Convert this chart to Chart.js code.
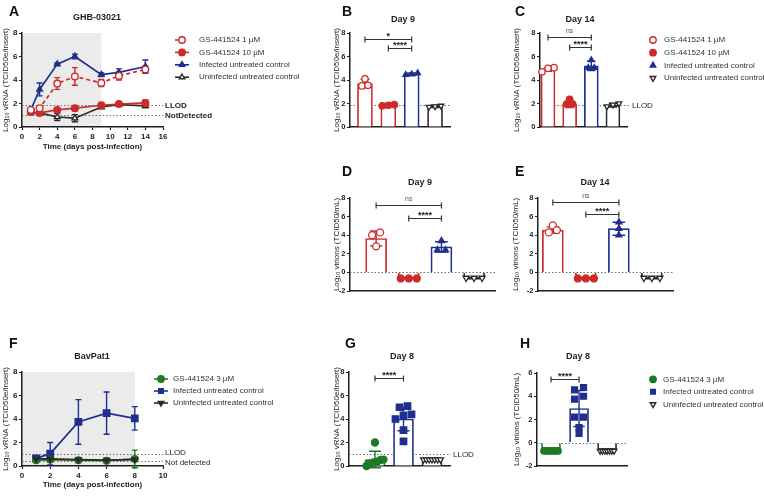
<!DOCTYPE html>
<html>
<head>
<meta charset="utf-8">
<title>GS-441524 – vRNA and virions</title>
<script src="https://cdn.jsdelivr.net/npm/chart.js@4.4.1/dist/chart.umd.min.js"></script>
<style>
  html, body { margin: 0; padding: 0; background: #fff; }
  #fig { position: relative; width: 764px; height: 496px; overflow: hidden; background: #fff; }
  #fig canvas { position: absolute; left: 0; top: 0; }
</style>
</head>
<body>
<div id="fig">
  <canvas id="pA" width="764" height="496"></canvas>
  <canvas id="pB" width="764" height="496"></canvas>
  <canvas id="pC" width="764" height="496"></canvas>
  <canvas id="pD" width="764" height="496"></canvas>
  <canvas id="pE" width="764" height="496"></canvas>
  <canvas id="pF" width="764" height="496"></canvas>
  <canvas id="pG" width="764" height="496"></canvas>
  <canvas id="pH" width="764" height="496"></canvas>
</div>
<script>
/* ============================================================
   GS-441524 vs GHB-03021 / BavPat1 — panels A to H
   ============================================================ */

const W = 764, H = 496;
const FONT = "'Liberation Sans', Arial, sans-serif";
const INK = '#1e1e1e';
const RED = '#cf2a2a';
const BLUE = '#1f2f8f';
const BLK = '#2a2a2a';
const GREEN = '#1d7a23';
const SHADE = '#ebebeb';

Chart.defaults.font.family = FONT;
Chart.defaults.color = INK;
Chart.defaults.plugins.legend.display = false;
Chart.defaults.plugins.tooltip.enabled = false;

/* ── Data: GHB-03021 time course (A) ── */
const seriesGHB = ['GS-441524 1 µM', 'GS-441524 10 µM', 'Infected untreated control', 'Uninfected untreated control'];
const daysA    = [1, 2, 4, 6, 9, 11, 14];
const a1uM     = [1.45, 1.6, 3.7, 4.3, 3.75, 4.35, 4.9];
const a1uMSd   = [0.1, 0.1, 0.5, 0.75, 0.3, 0.35, 0.3];
const a10uM    = [1.3, 1.2, 1.45, 1.6, 1.85, 1.95, 2.05];
const a10uMSd  = [0.1, 0.1, 0.08, 0.2, 0.08, 0.08, 0.25];
const aInf     = [1.45, 3.2, 5.35, 6.0, 4.45, 4.65, 5.15];
const aInfSd   = [0.1, 0.55, 0.1, 0.2, 0.15, 0.3, 0.55];
const aUninf   = [1.2, 1.2, 0.85, 0.75, 1.7, 1.9, 1.8];
const aUninfSd = [0.1, 0.1, 0.3, 0.3, 0.1, 0.05, 0.15];
const LLOD_GHB = 1.9;
const ND_GHB = 1.0;

/* ── Data: vRNA day 9 (B) and day 14 (C) ── */
const bMean = [3.7, 1.85, 4.5, 1.75];
const bSd   = [0.35, 0.05, 0.1, 0.1];
const bPts  = [[3.5, 4.1, 3.55], [1.8, 1.85, 1.9], [4.45, 4.5, 4.6], [1.7, 1.75, 1.8]];
const cMean = [4.9, 1.95, 5.2, 1.85];
const cSd   = [0.15, 0.3, 0.4, 0.15];
const cPts  = [[4.7, 5.05, 5.0], [1.95, 2.35, 1.95], [5.05, 5.7, 5.05], [1.75, 1.9, 2.0]];

/* ── Data: virions day 9 (D) and day 14 (E) ── */
const dMean = [3.65, -0.65, 2.75, -0.65];
const dSd   = [0.8, 0, 0.55, 0.05];
const dPts  = [[4.3, 4.0, 2.8], [-0.65, -0.65, -0.65], [3.4, 2.4, 2.4], [-0.6, -0.6, -0.6]];
const eMean = [4.55, -0.65, 4.7, -0.65];
const eSd   = [0.35, 0, 0.7, 0.05];
const ePts  = [[4.3, 5.05, 4.55], [-0.65, -0.65, -0.65], [5.4, 4.7, 4.0], [-0.6, -0.6, -0.6]];

/* ── Data: BavPat1 time course (F) ── */
const seriesBav = ['GS-441524 3 µM', 'Infected untreated control', 'Uninfected untreated control'];
const daysF    = [1, 2, 4, 6, 8];
const fDrug    = [0.5, 0.55, 0.5, 0.45, 0.6];
const fDrugSd  = [0.08, 0.2, 0.05, 0.05, 0.75];
const fInf     = [0.65, 1.05, 3.75, 4.5, 4.05];
const fInfSd   = [0.2, 0.95, 1.9, 1.8, 1.0];
const fUninf   = [0.6, 0.6, 0.55, 0.5, 0.55];
const fUninfSd = [0.05, 0.05, 0.05, 0.05, 0.05];
const LLOD_BAV = 1.0;
const ND_BAV = 0.45;

/* ── Data: day 8 vRNA (G) and virions (H) ── */
const gMean = [0.55, 4.0, 0.55];
const gSd   = [0.7, 1.0, 0];
const gPts  = [[2.0, 0.5, 0.3, 0.0, 0.55, 0.2, 0.35], [5.0, 5.1, 4.3, 4.4, 4.0, 3.05, 2.1], [0.55, 0.55, 0.55, 0.55, 0.55, 0.55, 0.55]];
const hMean = [-0.7, 2.95, -0.6];
const hSd   = [0, 1.55, 0.05];
const hPts  = [[-0.7, -0.7, -0.7, -0.7, -0.7, -0.7, -0.7], [4.55, 4.75, 3.75, 4.0, 2.2, 2.2, 1.3, 0.8], [-0.7, -0.7, -0.7, -0.7, -0.7, -0.7, -0.7]];

/* ── Styles ── */
const ST = {
  open1:   { color: RED,   open: true,  shape: 'circle', dash: [4, 3] },
  fill10:  { color: RED,   open: false, shape: 'circle' },
  inf:     { color: BLUE,  open: false, shape: 'triangle' },
  uninfUp: { color: BLK,   open: true,  shape: 'triangle' },
  uninfDn: { color: BLK,   open: true,  shape: 'triangle', rot: 180 },
  gs3:     { color: GREEN, open: false, shape: 'circle' },
  infSq:   { color: BLUE,  open: false, shape: 'rect' },
  uninfF:  { color: BLK,   open: false, shape: 'triangle', rot: 180 },
};
const Y_RNA = 'Log₁₀ vRNA (TCID50e/insert)';
const Y_VIR = 'Log₁₀ virions (TCID50/mL)';

/* ── Drawing helpers ── */
function label(ctx, str, x, y, size, weight, align, color) {
  ctx.save();
  ctx.font = (weight || 'normal') + ' ' + size + 'px ' + FONT;
  ctx.fillStyle = color || INK;
  ctx.textAlign = align || 'left';
  ctx.textBaseline = 'middle';
  ctx.fillText(str, x, y);
  ctx.restore();
}

function marker(ctx, st, x, y, r) {
  ctx.save();
  ctx.lineWidth = 1.4;
  ctx.strokeStyle = st.color;
  ctx.fillStyle = st.open ? '#fff' : st.color;
  ctx.beginPath();
  if (st.shape === 'circle') ctx.arc(x, y, r, 0, Math.PI * 2);
  else if (st.shape === 'rect') { const s = r * Math.SQRT1_2; ctx.rect(x - s, y - s, 2 * s, 2 * s); }
  else {
    let a = (st.rot || 0) * Math.PI / 180;
    for (let k = 0; k < 3; k++) {
      const px = x + Math.sin(a) * r, py = y - Math.cos(a) * r;
      if (k) ctx.lineTo(px, py); else ctx.moveTo(px, py);
      a += 2 * Math.PI / 3;
    }
    ctx.closePath();
  }
  ctx.fill();
  ctx.stroke();
  ctx.restore();
}

function errBar(ctx, px, yTop, yBot, color, cap) {
  ctx.save();
  ctx.strokeStyle = color;
  ctx.lineWidth = 1.4;
  ctx.beginPath();
  ctx.moveTo(px, yTop); ctx.lineTo(px, yBot);
  ctx.moveTo(px - cap, yTop); ctx.lineTo(px + cap, yTop);
  ctx.moveTo(px - cap, yBot); ctx.lineTo(px + cap, yBot);
  ctx.stroke();
  ctx.restore();
}

/* Simple beeswarm: points closer than thr share a row, spread around the group centre */
function swarm(vals, step, thr, maxW) {
  const idx = vals.map((v, i) => i).sort((a, b) => vals[a] - vals[b]);
  const off = new Array(vals.length).fill(0);
  let start = 0;
  for (let k = 1; k <= idx.length; k++) {
    if (k === idx.length || vals[idx[k]] - vals[idx[k - 1]] >= thr) {
      const m = k - start;
      const s = m > 1 ? Math.min(step, maxW / (m - 1)) : 0;
      for (let j = 0; j < m; j++) off[idx[start + j]] = (j - (m - 1) / 2) * s;
      start = k;
    }
  }
  return off;
}

/* ── Per-panel decorations (titles, letters, LLOD, brackets, legends) ── */
const DECOR = {};

Chart.register({
  id: 'decor',
  beforeDraw(chart) {
    const d = DECOR[chart.canvas.id];
    if (!d || d.shadeTo == null) return;
    const { ctx, chartArea: a, scales: { x } } = chart;
    const x0 = x.getPixelForValue(0), x1 = x.getPixelForValue(d.shadeTo);
    ctx.save();
    ctx.fillStyle = SHADE;
    ctx.fillRect(x0, a.top, x1 - x0, a.bottom - a.top);
    ctx.restore();
  },
  beforeDatasetsDraw(chart) {
    const d = DECOR[chart.canvas.id];
    if (!d) return;
    const { ctx, chartArea: a, scales: { x, y } } = chart;
    (d.refs || []).forEach(r => {
      const py = Math.round(y.getPixelForValue(r.y)) + 0.5;
      const end = a.right + (r.ext || 0);
      ctx.save();
      ctx.strokeStyle = '#6e6e6e';
      ctx.lineWidth = 1;
      ctx.setLineDash([1.5, 2]);
      ctx.beginPath(); ctx.moveTo(a.left, py); ctx.lineTo(end, py); ctx.stroke();
      ctx.restore();
      if (r.label) label(ctx, r.label, end + 2, py + (r.dy || 0), 8, r.bold ? 'bold' : 'normal', 'left');
    });
    // error bars of the time courses sit under lines and markers
    (d.lineErr || []).forEach(s => {
      s.x.forEach((day, i) => {
        if (!s.sd[i]) return;
        errBar(ctx, x.getPixelForValue(day), y.getPixelForValue(s.y[i] + s.sd[i]),
               y.getPixelForValue(s.y[i] - s.sd[i]), s.st.color, 3);
      });
    });
  },
  afterDatasetDraw(chart, args) {
    const d = DECOR[chart.canvas.id];
    if (!d || !d.barErr || args.index !== 0) return;
    const { ctx, scales: { x, y } } = chart;
    const e = d.barErr;
    e.mean.forEach((m, i) => {
      if (!e.sd[i]) return;
      errBar(ctx, x.getPixelForValue(i + 1), y.getPixelForValue(m + e.sd[i]),
             y.getPixelForValue(m - e.sd[i]), e.groups[i].color, e.cap);
    });
  },
  afterDraw(chart) {
    const d = DECOR[chart.canvas.id];
    if (!d) return;
    const { ctx, scales: { x, y } } = chart;
    (d.brackets || []).forEach(b => {
      const x1 = x.getPixelForValue(b.a), x2 = x.getPixelForValue(b.b);
      const py = Math.round(y.getPixelForValue(b.y)) + 0.5;
      ctx.save();
      ctx.strokeStyle = '#333';
      ctx.lineWidth = 1.2;
      ctx.beginPath();
      ctx.moveTo(x1, py); ctx.lineTo(x2, py);
      ctx.moveTo(x1, py - 3); ctx.lineTo(x1, py + 3);
      ctx.moveTo(x2, py - 3); ctx.lineTo(x2, py + 3);
      ctx.stroke();
      ctx.restore();
      if (b.text === 'ns') label(ctx, 'ns', (x1 + x2) / 2, py - 6, 7, 'normal', 'center', '#555');
      else label(ctx, b.text, (x1 + x2) / 2, py - 3, 9, 'bold', 'center', '#222');
    });
    if (d.legend) {
      const L = d.legend;
      L.items.forEach((it, i) => {
        const yy = L.y + i * L.dy;
        if (L.line) {
          ctx.save();
          ctx.strokeStyle = it.st.color;
          ctx.lineWidth = 1.6;
          ctx.setLineDash(it.st.dash || []);
          ctx.beginPath(); ctx.moveTo(L.x - 7, yy); ctx.lineTo(L.x + 7, yy); ctx.stroke();
          ctx.restore();
        }
        marker(ctx, it.st, L.x, yy, L.r);
        label(ctx, it.label, L.tx, yy, 8, 'normal', 'left', '#333');
      });
    }
    if (d.title) label(ctx, d.title.t, d.title.x, d.title.y, 9, 'bold', 'center');
    if (d.letter) label(ctx, d.letter.t, d.letter.x, d.letter.y, 14, 'bold', 'left', '#111');
  }
});

/* ── Axes ── */
function yAxis(p, size) {
  return {
    type: 'linear', min: p.yMin, max: p.yMax,
    ticks: { stepSize: p.yStep, font: { size: size, weight: 'bold' }, color: INK, padding: 1.5 },
    grid: { drawOnChartArea: false, drawTicks: true, tickLength: 3, tickColor: INK, tickWidth: 1.2 },
    border: { display: true, color: INK, width: 1.5 },
    title: { display: true, text: p.yTitle, font: { size: 8 }, color: INK, padding: 0 },
    afterFit: s => { s.width = p.area.l - (p.titleX - 4.8); }
  };
}

function padding(p, hx) {
  return { left: p.titleX - 4.8, top: p.area.t, right: W - p.area.r, bottom: H - p.area.b - hx };
}

/* ── Time-course panels (A, F) ── */
function lineChart(id, p) {
  const datasets = p.series.map(s => ({
    type: 'line',
    label: s.label,
    data: s.x.map((d, i) => ({ x: d, y: s.y[i] })),
    borderColor: s.st.color,
    borderWidth: 1.7,
    borderDash: s.st.dash || [],
    pointStyle: s.st.shape,
    pointRotation: s.st.rot || 0,
    pointRadius: s.st.shape === 'rect' ? 4.5 : 3.3,
    pointBackgroundColor: s.st.open ? '#fff' : s.st.color,
    pointBorderColor: s.st.color,
    pointBorderWidth: 1.4,
    tension: 0,
    fill: false,
    clip: false
  }));
  DECOR[id] = Object.assign({}, p.decor, { lineErr: p.series });
  new Chart(document.getElementById(id), {
    type: 'line',
    data: { datasets },
    options: {
      responsive: false, animation: false, events: [],
      layout: { padding: padding(p, p.hx) },
      scales: {
        x: {
          type: 'linear', min: 0, max: p.xMax, offset: false,
          ticks: { stepSize: 2, font: { size: 8, weight: 'bold' }, color: INK, padding: 1.5, maxRotation: 0, autoSkip: false },
          grid: { drawOnChartArea: false, tickLength: 3, tickColor: INK, tickWidth: 1.2 },
          border: { display: true, color: INK, width: 1.5 },
          title: { display: true, text: 'Time (days post-infection)', font: { size: 8, weight: 'bold' }, color: INK, padding: 0 },
          afterFit: s => { s.height = p.hx; }
        },
        y: yAxis(p, 8)
      }
    }
  });
}

/* ── Bar + scatter panels (B, C, D, E, G, H) ── */
function barChart(id, p) {
  const pxX = (p.area.r - p.area.l) / (p.xMax - p.xMin);
  const pxY = (p.area.b - p.area.t) / (p.yMax - p.yMin);
  const datasets = [{
    type: 'bar',
    order: 1,
    data: p.mean.map((v, i) => ({ x: i + 1, y: v })),
    backgroundColor: '#fff',
    borderColor: p.groups.map(g => g.color),
    borderWidth: 1.7,
    barThickness: p.barW,
    borderSkipped: 'start'
  }];
  p.pts.forEach((vals, i) => {
    const st = p.groups[i];
    const off = swarm(vals, p.step / pxX, (2 * p.r * 0.6) / pxY, p.maxW / pxX);
    datasets.push({
      type: 'scatter',
      order: 0,
      data: vals.map((v, k) => ({ x: i + 1 + off[k], y: v })),
      pointStyle: st.shape,
      pointRotation: st.rot || 0,
      pointRadius: st.shape === 'rect' ? p.r * 1.3 : p.r,
      pointBackgroundColor: st.open ? '#fff' : st.color,
      pointBorderColor: st.color,
      pointBorderWidth: 1.3,
      clip: false
    });
  });
  DECOR[id] = Object.assign({}, p.decor, {
    barErr: { mean: p.mean, sd: p.sd, groups: p.groups, cap: p.barW * 0.3 }
  });
  new Chart(document.getElementById(id), {
    type: 'bar',
    data: { datasets },
    options: {
      responsive: false, animation: false, events: [],
      layout: { padding: padding(p, 0) },
      scales: {
        x: {
          type: 'linear', min: p.xMin, max: p.xMax, offset: false,
          ticks: { display: false },
          grid: { display: false },
          border: { display: true, color: INK, width: 1.5 },
          afterFit: s => { s.height = 0; }
        },
        y: yAxis(p, 7.5)
      }
    }
  });
}

const groupsGHB = [ST.open1, ST.fill10, ST.inf, ST.uninfDn];
const groupsBav = [ST.gs3, ST.infSq, ST.uninfDn];

/* A */
lineChart('pA', {
  area: { l: 22, t: 33, r: 163, b: 127 }, titleX: 6, hx: 25,
  xMax: 16, yMin: 0, yMax: 8, yStep: 2, yTitle: Y_RNA,
  series: [
    { label: seriesGHB[0], x: daysA, y: a1uM, sd: a1uMSd, st: ST.open1 },
    { label: seriesGHB[1], x: daysA, y: a10uM, sd: a10uMSd, st: ST.fill10 },
    { label: seriesGHB[3], x: daysA, y: aUninf, sd: aUninfSd, st: ST.uninfUp },
    { label: seriesGHB[2], x: daysA, y: aInf, sd: aInfSd, st: ST.inf }
  ],
  decor: {
    letter: { t: 'A', x: 9, y: 12 },
    title: { t: 'GHB-03021', x: 97, y: 17.5 },
    shadeTo: 9,
    refs: [{ y: LLOD_GHB, label: 'LLOD', bold: true }, { y: ND_GHB, label: 'NotDetected', bold: true }],
    legend: {
      x: 182, tx: 199, y: 40, dy: 12.4, r: 3.2, line: true,
      items: [
        { label: seriesGHB[0], st: ST.open1 },
        { label: seriesGHB[1], st: ST.fill10 },
        { label: seriesGHB[2], st: ST.inf },
        { label: seriesGHB[3], st: ST.uninfUp }
      ]
    }
  }
});

/* B */
barChart('pB', {
  area: { l: 350, t: 33, r: 450, b: 127 }, titleX: 336.5,
  xMin: 0.36, xMax: 4.64, yMin: 0, yMax: 8, yStep: 2, yTitle: Y_RNA,
  mean: bMean, sd: bSd, pts: bPts, groups: groupsGHB,
  barW: 15, r: 3.2, step: 6, maxW: 12,
  decor: {
    letter: { t: 'B', x: 342, y: 12.5 },
    title: { t: 'Day 9', x: 403, y: 19.5 },
    refs: [{ y: LLOD_GHB }],
    brackets: [{ a: 1, b: 3, y: 7.5, text: '*' }, { a: 2, b: 3, y: 6.7, text: '****' }]
  }
});

/* C */
barChart('pC', {
  area: { l: 540, t: 33, r: 627, b: 127 }, titleX: 517,
  xMin: 0.63, xMax: 4.65, yMin: 0, yMax: 8, yStep: 2, yTitle: Y_RNA,
  mean: cMean, sd: cSd, pts: cPts, groups: groupsGHB,
  barW: 14, r: 3.2, step: 6, maxW: 12,
  decor: {
    letter: { t: 'C', x: 515, y: 12.5 },
    title: { t: 'Day 14', x: 580, y: 19.5 },
    refs: [{ y: LLOD_GHB, ext: 3, label: 'LLOD' }],
    brackets: [{ a: 1, b: 3, y: 7.7, text: 'ns' }, { a: 2, b: 3, y: 6.8, text: '****' }],
    legend: {
      x: 653, tx: 664, y: 40, dy: 12.7, r: 3.2, line: false,
      items: [
        { label: seriesGHB[0], st: ST.open1 },
        { label: seriesGHB[1], st: ST.fill10 },
        { label: seriesGHB[2], st: ST.inf },
        { label: seriesGHB[3], st: ST.uninfDn }
      ]
    }
  }
});

/* D */
barChart('pD', {
  area: { l: 350, t: 198, r: 495, b: 291 }, titleX: 337,
  xMin: 0.2, xMax: 4.64, yMin: -2, yMax: 8, yStep: 2, yTitle: Y_VIR,
  mean: dMean, sd: dSd, pts: dPts, groups: groupsGHB,
  barW: 21, r: 3.5, step: 8, maxW: 16,
  decor: {
    letter: { t: 'D', x: 342, y: 172 },
    title: { t: 'Day 9', x: 420, y: 183 },
    refs: [{ y: 0 }],
    brackets: [{ a: 1, b: 3, y: 7.2, text: 'ns' }, { a: 2, b: 3, y: 5.85, text: '****' }]
  }
});

/* E */
barChart('pE', {
  area: { l: 538, t: 198, r: 673, b: 291 }, titleX: 516,
  xMin: 0.55, xMax: 4.64, yMin: -2, yMax: 8, yStep: 2, yTitle: Y_VIR,
  mean: eMean, sd: eSd, pts: ePts, groups: groupsGHB,
  barW: 21, r: 3.5, step: 8, maxW: 16,
  decor: {
    letter: { t: 'E', x: 515, y: 172 },
    title: { t: 'Day 14', x: 595, y: 183 },
    refs: [{ y: 0 }],
    brackets: [{ a: 1, b: 3, y: 7.55, text: 'ns' }, { a: 2, b: 3, y: 6.3, text: '****' }]
  }
});

/* F */
lineChart('pF', {
  area: { l: 22, t: 372, r: 163, b: 466 }, titleX: 6, hx: 24,
  xMax: 10, yMin: 0, yMax: 8, yStep: 2, yTitle: Y_RNA,
  series: [
    { label: seriesBav[2], x: daysF, y: fUninf, sd: fUninfSd, st: ST.uninfF },
    { label: seriesBav[0], x: daysF, y: fDrug, sd: fDrugSd, st: ST.gs3 },
    { label: seriesBav[1], x: daysF, y: fInf, sd: fInfSd, st: ST.infSq }
  ],
  decor: {
    letter: { t: 'F', x: 9, y: 344 },
    title: { t: 'BavPat1', x: 92, y: 357 },
    shadeTo: 8,
    refs: [{ y: LLOD_BAV, label: 'LLOD', dy: -1.5 }, { y: ND_BAV, label: 'Not detected', dy: 1.5 }],
    legend: {
      x: 161, tx: 173, y: 379, dy: 12, r: 3.2, line: true,
      items: [
        { label: seriesBav[0], st: ST.gs3 },
        { label: seriesBav[1], st: ST.infSq },
        { label: seriesBav[2], st: ST.uninfF }
      ]
    }
  }
});

/* G */
barChart('pG', {
  area: { l: 349, t: 372, r: 450, b: 466 }, titleX: 336.5,
  xMin: 0.09, xMax: 3.63, yMin: 0, yMax: 8, yStep: 2, yTitle: Y_RNA,
  mean: gMean, sd: gSd, pts: gPts, groups: groupsBav,
  barW: 20, r: 3.5, step: 8, maxW: 17,
  decor: {
    letter: { t: 'G', x: 345, y: 344 },
    title: { t: 'Day 8', x: 402, y: 357 },
    refs: [{ y: LLOD_BAV, ext: 1, label: 'LLOD' }],
    brackets: [{ a: 1, b: 2, y: 7.45, text: '****' }]
  }
});

/* H */
barChart('pH', {
  area: { l: 537, t: 373, r: 627, b: 466 }, titleX: 517,
  xMin: 0.5, xMax: 3.71, yMin: -2, yMax: 6, yStep: 2, yTitle: Y_VIR,
  mean: hMean, sd: hSd, pts: hPts, groups: groupsBav,
  barW: 19, r: 3.2, step: 9, maxW: 14,
  decor: {
    letter: { t: 'H', x: 520, y: 344 },
    title: { t: 'Day 8', x: 578, y: 357 },
    refs: [{ y: 0 }],
    brackets: [{ a: 1, b: 2, y: 5.5, text: '****' }],
    legend: {
      x: 653, tx: 663, y: 379.3, dy: 12.5, r: 3.2, line: false,
      items: [
        { label: seriesBav[0], st: ST.gs3 },
        { label: seriesBav[1], st: ST.infSq },
        { label: seriesBav[2], st: ST.uninfDn }
      ]
    }
  }
});
</script>
</body>
</html>
